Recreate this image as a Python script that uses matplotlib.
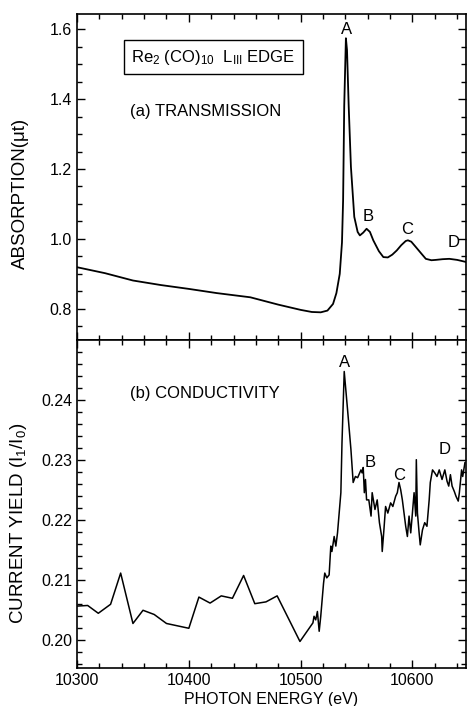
import numpy as np
import matplotlib
matplotlib.use('Agg')
import matplotlib.pyplot as plt
from matplotlib.ticker import MultipleLocator

# fonte parecida com o lettering da figura original
plt.rcParams['font.family'] = ['Liberation Sans', 'DejaVu Sans']
plt.rcParams['mathtext.default'] = 'regular'

# (a) transmissao
e_trans = [10300, 10325, 10350, 10375, 10400, 10425, 10455, 10480, 10500,
           10510, 10518, 10524, 10529, 10532, 10535, 10537, 10538, 10539,
           10540.5, 10541.5, 10543, 10545, 10548, 10551, 10553, 10556,
           10559, 10562, 10565, 10570, 10574, 10578, 10582, 10586, 10590,
           10594, 10596, 10599, 10603, 10608, 10612, 10617, 10621, 10627,
           10633, 10640, 10648]
mu_t = [0.919, 0.902, 0.881, 0.868, 0.857, 0.845, 0.833, 0.812, 0.797,
        0.791, 0.790, 0.795, 0.814, 0.845, 0.900, 0.990, 1.110, 1.380,
        1.574, 1.540, 1.380, 1.206, 1.063, 1.020, 1.010, 1.018,
        1.029, 1.020, 0.996, 0.965, 0.948, 0.947, 0.955, 0.967, 0.982,
        0.994, 0.996, 0.992, 0.977, 0.958, 0.943, 0.939, 0.940, 0.942,
        0.943, 0.940, 0.934]

# (b) condutividade
e_cond = [10300, 10309.5, 10319, 10330, 10339, 10350, 10359, 10369, 10380,
          10400, 10409, 10419, 10429, 10439, 10449, 10459, 10469, 10479,
          10499.4, 10511, 10512, 10513.5, 10515, 10516.6, 10518, 10520.5,
          10521.6, 10523.4, 10525.5, 10527, 10528, 10530, 10531.5, 10533,
          10536, 10537, 10539, 10542, 10545, 10547, 10549, 10551, 10554,
          10555, 10556, 10557, 10558, 10559, 10561, 10563, 10564, 10566.5,
          10568.5, 10570.5, 10572.5, 10573, 10574.5, 10576, 10578, 10580.5,
          10582.5, 10585, 10586.5, 10588, 10589.5, 10591, 10592.5, 10594,
          10595.5, 10597, 10598.5, 10600, 10601.5, 10603, 10603.5, 10604.5,
          10606, 10607, 10609, 10611, 10613, 10615, 10616, 10618, 10620,
          10622, 10624, 10626.5, 10629, 10631, 10632.5, 10634, 10635.5,
          10637.5, 10639, 10641, 10642, 10644, 10645, 10647]
yield_i = [0.2056, 0.2057, 0.2044, 0.2059, 0.2111, 0.2027, 0.2049, 0.2042,
           0.2027, 0.2019, 0.2071, 0.2061, 0.2073, 0.2069, 0.2107, 0.2060,
           0.2063, 0.2073, 0.1997, 0.2028, 0.2039, 0.2033, 0.2047, 0.2014,
           0.2039, 0.2094, 0.2111, 0.2103, 0.2108, 0.2156, 0.2147, 0.2172,
           0.2156, 0.2178, 0.2245, 0.2328, 0.2447, 0.2383, 0.2317, 0.2262,
           0.2272, 0.2270, 0.2283, 0.2278, 0.2287, 0.2245, 0.2267, 0.2233,
           0.2233, 0.2206, 0.2245, 0.2217, 0.2233, 0.2195, 0.2172, 0.2147,
           0.2183, 0.2222, 0.2211, 0.2228, 0.2222, 0.2239, 0.2245, 0.2262,
           0.2250, 0.2233, 0.2211, 0.2189, 0.2172, 0.2206, 0.2178, 0.2211,
           0.2245, 0.2206, 0.2300, 0.2211, 0.2178, 0.2158, 0.2183, 0.2195,
           0.2189, 0.2233, 0.2262, 0.2283, 0.2278, 0.2272, 0.2283, 0.2267,
           0.2283, 0.2264, 0.2256, 0.2275, 0.2256, 0.2247, 0.2239, 0.2231,
           0.2245, 0.2283, 0.2272, 0.2295]

# letras dos picos (posicao do centro da letra)
peak_names = ['A', 'B', 'C', 'D']
peak_e_a = [10541, 10560, 10595, 10637]
peak_y_a = [1.60, 1.063, 1.026, 0.989]
peak_e_b = [10539, 10562, 10588, 10629]
peak_y_b = [0.2462, 0.2295, 0.2273, 0.2317]

fig = plt.figure(figsize=(4.67, 7.06), dpi=100)
ax1 = fig.add_axes([0.165, 0.518, 0.833, 0.462])
ax2 = fig.add_axes([0.165, 0.054, 0.833, 0.464], sharex=ax1)

ax1.plot(e_trans, mu_t, color='black', lw=1.3)
ax2.plot(e_cond, yield_i, color='black', lw=1.1)

ax1.set_xlim(10300, 10648)
ax1.set_ylim(0.71, 1.643)
ax2.set_ylim(0.1953, 0.2499)

ax1.yaxis.set_major_locator(MultipleLocator(0.2))
ax1.yaxis.set_minor_locator(MultipleLocator(0.05))
ax2.yaxis.set_major_locator(MultipleLocator(0.01))
ax2.yaxis.set_minor_locator(MultipleLocator(0.002))
ax2.xaxis.set_major_locator(MultipleLocator(100))
ax2.xaxis.set_minor_locator(MultipleLocator(20))
ax1.yaxis.set_major_formatter(plt.FuncFormatter(lambda v, p: '%.1f' % v))
ax2.yaxis.set_major_formatter(plt.FuncFormatter(lambda v, p: '%.2f' % v))
ax2.xaxis.set_major_formatter(plt.FuncFormatter(lambda v, p: '%d' % v))

for ax in (ax1, ax2):
    ax.tick_params(which='both', direction='in', top=True, right=True,
                   labelsize=11.5, width=1.0)
    ax.tick_params(which='major', length=6)
    ax.tick_params(which='minor', length=3.5)
    for s in ax.spines.values():
        s.set_linewidth(1.2)
ax1.tick_params(labelbottom=False)

for n, x, y in zip(peak_names, peak_e_a, peak_y_a):
    ax1.text(x, y, n, ha='center', va='center', fontsize=12)
for n, x, y in zip(peak_names, peak_e_b, peak_y_b):
    ax2.text(x, y, n, ha='center', va='center', fontsize=12)

ax1.text(0.35, 0.868, r'Re$_2$ (CO)$_{10}$  L$_{III}$ EDGE',
         transform=ax1.transAxes, ha='center', va='center', fontsize=12,
         bbox=dict(boxstyle='square,pad=0.45', fc='white', ec='black', lw=1.0))
ax1.text(0.136, 0.70, '(a) TRANSMISSION', transform=ax1.transAxes,
         ha='left', va='center', fontsize=12)
ax2.text(0.136, 0.838, '(b) CONDUCTIVITY', transform=ax2.transAxes,
         ha='left', va='center', fontsize=12)

ax1.set_ylabel('ABSORPTION(μt)', fontsize=13.5)
ax2.set_ylabel('CURRENT YIELD (I$_1$/I$_0$)', fontsize=13.5)
ax1.yaxis.set_label_coords(-0.124, 0.45)
ax2.yaxis.set_label_coords(-0.124, 0.44)
ax2.set_xlabel('PHOTON ENERGY (eV)', fontsize=11.5, labelpad=3)

fig.savefig('out.png', dpi=100)
